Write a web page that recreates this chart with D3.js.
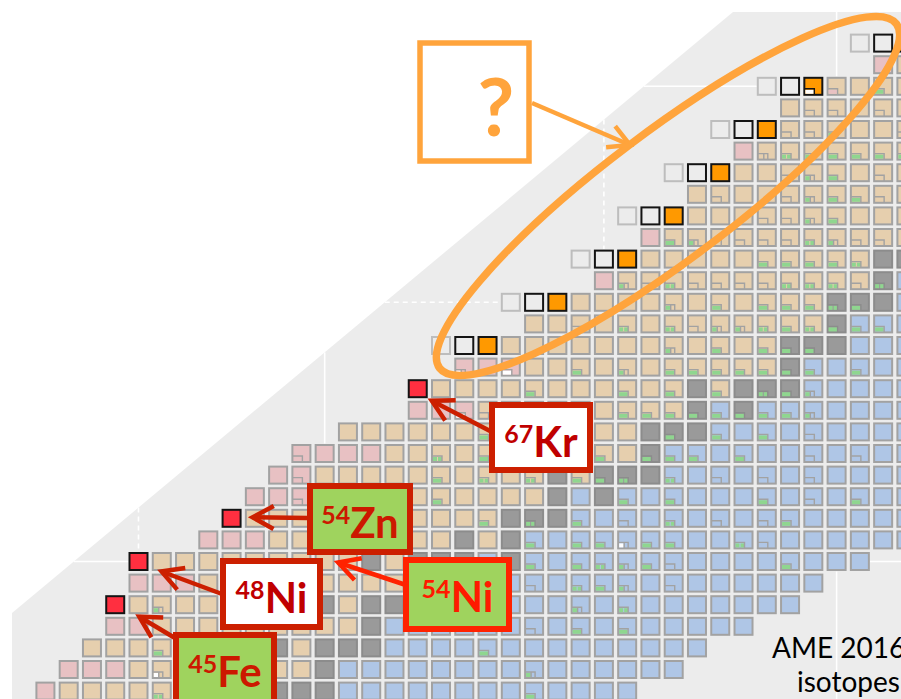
<!DOCTYPE html>
<html>
<head>
<meta charset="utf-8">
<script src="https://cdn.jsdelivr.net/npm/d3@7"></script>
<style>
  html, body { margin: 0; padding: 0; background: #ffffff; }
  svg { display: block; }
</style>
</head>
<body>
<script>
// ---- Chart of nuclides, proton-rich side (Z = 22 … 52) ----
// One entry per row: proton number, first neutron number, run-length cell kinds, isomer marks.
// kinds: w = predicted (unobserved), k = newly identified, o = newly measured,
//        r = two-proton emitter, p = proton-rich (extrapolated mass), t = measured,
//        s = stable, b = beta-minus side
// marks: . none, L isomer box, g green isomer, G two green isomers, h green + box,
//        D two boxes, w white isomer, W white + box, p pink isomer
const protonNumbers = [52,51,50,49,48,47,46,45,44,43,42,41,40,39,38,37,36,35,34,33,32,31,30,29,28,27,26,25,24,23,22];
const firstNeutron  = [51,52,47,48,45,46,43,44,41,42,39,40,36,37,33,34,32,32,29,27,26,25,24,23,20,20,19,19,18,17,16];
const cellKinds = [
  "w k o",
  "p t",
  "w k o t4",
  "t6",
  "w k o t6",
  "p t7",
  "w k o t8",
  "t10",
  "w k o t10",
  "p t11",
  "w k o t10 s2",
  "p t11 s b",
  "w k o t11 s3 b",
  "t13 s b3",
  "w k o t12 s3 b3",
  "p3 t11 s b5",
  "r t11 s t s3 b5",
  "p3 t9 s b s b7",
  "t13 s3 b9",
  "p4 t11 s b11",
  "p2 t10 s t s3 b11",
  "p3 t10 s b s b13",
  "r t11 s3 b15",
  "p3 t8 s t s b17",
  "r t9 s t s3 b s b15",
  "p3 t9 s b17",
  "r t8 s t s3 b16",
  "p2 t9 s b16",
  "t8 s t s3 b14",
  "p3 t8 s b15",
  "p t7 s5 b13"
];
const cellMarks = [
  "...",
  "..",
  "..wp.g.",
  ".LL.L.",
  "...LLg..L",
  ".DGGgggg",
  ".....Lhg.L.",
  ".L..LhggL.",
  "......LLhg...",
  ".ghLLLLGhLL.",
  "........ggggG..",
  ".hLGLLLLGGGLG.",
  ".......h.g.gggGg..",
  "..L.G.GLhhGgGggg.",
  "..........h.g.ggg....",
  "W.w..g.h.ggggggg.g..",
  ".....g...g.g.g.Ggh....",
  "..wL.....ggggggggh....",
  "......g.......g.g.g.L....",
  "L.....G.g....g.ggg.g..L.L..",
  ".L.....g.G.G.ggG.G.L.L.L....",
  "..L.....g.......g.g...g.L.g..",
  "...........g.G.g.L.G.L.Lg.....",
  "..............g.ggWgg..GL......",
  ".................g.gGhgL....g...",
  ".................L.Ggh.L......",
  "..h.................h.G.......",
  "..................L.g.g.....",
  "...g.............g.........",
  "....W...............h......",
  ".....G...............g...."
];
// Magic numbers marked by guide lines in the background
const magicNeutrons = [20, 28, 40, 50];
const magicProtons  = [28, 40, 50];
const dashedMagic   = ["N20", "N40", "Z40"];

// Labelled nuclides
const tagMass   = ["67", "54", "48", "54", "45"];
const tagSymbol = ["Kr", "Zn", "Ni", "Ni", "Fe"];
const tagCellN  = [32, 24, 20, 26, 19];
const tagCellZ  = [36, 30, 28, 28, 26];

const W = 901, H = 699;
const svg = d3.select("body").append("svg").attr("width", W).attr("height", H);

// Position scales: neutron number -> x (cell centre), proton number -> y (cell centre)
const x = d3.scaleLinear().domain([20, 50]).range([138.5, 836.6]);
const y = d3.scaleLinear().domain([28, 50]).range([561.5, 86.3]);

// Background band
const band = [[733, 12], [W, 12], [W, H], [12, H], [12, 613]];
svg.append("polygon").attr("points", band.map(p => p.join(",")).join(" ")).attr("fill", "#ececec");
const edgeYAt = px => 12 + (733 - px) * (601 / 721);
const edgeXAt = py => 733 - (py - 12) * (721 / 601);

// Expand a run-length row ("p3 t9 s") into single kind letters
const expandRow = spec => spec.split(" ").flatMap(tok => Array(tok.length > 1 ? +tok.slice(1) : 1).fill(tok[0]));

// Flatten rows into cells
const cells = [];
protonNumbers.forEach((Z, i) => {
  const kinds = expandRow(cellKinds[i]), marks = cellMarks[i];
  kinds.forEach((kind, j) => {
    cells.push({ Z, N: firstNeutron[i] + j, kind, mark: marks[j] || "." });
  });
});

// Magic-number guide lines, running through the empty part of the band
const guides = svg.append("g").attr("stroke", "#ffffff").attr("stroke-width", 1.6).attr("fill", "none");
magicNeutrons.forEach(N => {
  const col = cells.filter(c => c.N === N);
  const zMax = d3.max(col, c => c.Z), zMin = d3.min(col, c => c.Z);
  const dash = dashedMagic.includes("N" + N) ? "5,4" : null;
  const yTop = Math.max(12, edgeYAt(x(N)));
  const yFirst = y(zMax) - 10;
  if (yFirst > yTop) guides.append("line").attr("x1", x(N)).attr("x2", x(N)).attr("y1", yTop).attr("y2", yFirst).attr("stroke-dasharray", dash);
  const yLast = y(zMin) + 10;
  if (yLast < H && zMin > protonNumbers[protonNumbers.length - 1])
    guides.append("line").attr("x1", x(N)).attr("x2", x(N)).attr("y1", yLast).attr("y2", H).attr("stroke-dasharray", dash);
});
magicProtons.forEach(Z => {
  const row = cells.filter(c => c.Z === Z);
  const nMin = d3.min(row, c => c.N), nMax = d3.max(row, c => c.N);
  const dash = dashedMagic.includes("Z" + Z) ? "5,4" : null;
  const xLeft = Math.max(12, edgeXAt(y(Z)));
  if (x(nMin) - 10 > xLeft) guides.append("line").attr("x1", xLeft).attr("x2", x(nMin) - 10).attr("y1", y(Z)).attr("y2", y(Z)).attr("stroke-dasharray", dash);
  if (x(nMax) + 10 < W) guides.append("line").attr("x1", x(nMax) + 10).attr("x2", W).attr("y1", y(Z)).attr("y2", y(Z)).attr("stroke-dasharray", dash);
});

// Cells
const fillOf   = { w: "#ececec", k: "#ececec", o: "#ff9900", r: "#ff2f40", p: "#e8c1c3", t: "#e6cfae", s: "#9a9a9a", b: "#afc6e6" };
const strokeOf = { w: "#bdbdbd", k: "#141414", o: "#141414", r: "#141414", p: "#a2a2a2", t: "#a2a2a2", s: "#8c8c8c", b: "#a2a2a2" };
const cw = 18, ch = 17;

const cellG = svg.append("g");
cellG.selectAll("rect.cell").data(cells).join("rect")
  .attr("class", "cell")
  .attr("x", d => x(d.N) - cw / 2).attr("y", d => y(d.Z) - ch / 2)
  .attr("width", cw).attr("height", ch)
  .attr("fill", d => fillOf[d.kind])
  .attr("stroke", d => strokeOf[d.kind])
  .attr("stroke-width", 2);

// Isomer marks in the lower-left corner of a cell
const markFill = { g: "#8fd68f", G: "#8fd68f", h: "#8fd68f", w: "#ffffff", W: "#ffffff", p: "#e8c1c3" };
const markG = svg.append("g");
cells.filter(d => d.mark !== ".").forEach(d => {
  const left = x(d.N) - cw / 2, bottom = y(d.Z) + ch / 2;
  const g = markG.append("g");
  const bw = 10, bh = 6;
  const col = strokeOf[d.kind];
  if (d.mark === "G") {
    g.append("rect").attr("x", left + 1).attr("y", bottom - bh + 1).attr("width", 4).attr("height", bh - 2).attr("fill", "#8fd68f");
    g.append("rect").attr("x", left + 6).attr("y", bottom - bh + 1).attr("width", 4).attr("height", bh - 2).attr("fill", "#8fd68f");
  } else if (d.mark === "h" || d.mark === "W") {
    g.append("rect").attr("x", left + 1).attr("y", bottom - bh + 1).attr("width", 4.5).attr("height", bh - 2).attr("fill", markFill[d.mark]);
    g.append("path").attr("d", `M${left + 6},${bottom - bh}V${bottom}`).attr("stroke", col).attr("stroke-width", 1.4);
  } else if (d.mark === "D") {
    g.append("path").attr("d", `M${left + 6},${bottom - bh}V${bottom}`).attr("stroke", col).attr("stroke-width", 1.4);
  } else if (markFill[d.mark]) {
    g.append("rect").attr("x", left + 1).attr("y", bottom - bh + 1).attr("width", bw - 1.5).attr("height", bh - 2).attr("fill", markFill[d.mark]);
  }
  g.append("path")
    .attr("d", `M${left},${bottom - bh}H${left + bw}V${bottom}`)
    .attr("fill", "none").attr("stroke", col).attr("stroke-width", 1.4);
});

// Open chevron arrow helper
function arrow(g, x1, y1, x2, y2, color, width, arm) {
  const a = Math.atan2(y2 - y1, x2 - x1), spread = 0.5;
  g.append("line").attr("x1", x1).attr("y1", y1).attr("x2", x2).attr("y2", y2)
    .attr("stroke", color).attr("stroke-width", width);
  g.append("path")
    .attr("d", `M${x2 - arm * Math.cos(a - spread)},${y2 - arm * Math.sin(a - spread)}L${x2},${y2}L${x2 - arm * Math.cos(a + spread)},${y2 - arm * Math.sin(a + spread)}`)
    .attr("fill", "none").attr("stroke", color).attr("stroke-width", width).attr("stroke-linejoin", "miter");
}

// Highlighted region: ellipse along the proton drip line, with a question box
const hl = svg.append("g");
hl.append("ellipse").attr("cx", 668).attr("cy", 196).attr("rx", 286).attr("ry", 64)
  .attr("transform", "rotate(-37 668 196)")
  .attr("fill", "none").attr("stroke", "#ffa43c").attr("stroke-width", 7.5);
hl.append("rect").attr("x", 420).attr("y", 43).attr("width", 109).attr("height", 118)
  .attr("fill", "#ffffff").attr("stroke", "#ffa43c").attr("stroke-width", 5.5);
hl.append("text").attr("x", 496).attr("y", 136).attr("text-anchor", "middle")
  .attr("font-family", "Lato, 'Open Sans', sans-serif").attr("font-weight", 700).attr("font-size", 80)
  .attr("fill", "#ffa43c").text("?");
arrow(hl, 532, 103, 630, 145, "#ffa43c", 4.5, 24);

// Labels with arrows to the marked nuclides
const tagBox   = [[492, 405, 98, 65], [310, 486, 100, 66], [223, 561, 97, 66], [406, 560, 103, 69], [176, 635, 98, 72]];
const tagFill  = ["#ffffff", "#9fd35e", "#ffffff", "#9fd35e", "#9fd35e"];
const tagLine  = ["#cc1f00", "#cc1f00", "#cc1f00", "#ff2200", "#cc1f00"];
const tagText  = ["#c00000", "#cc1800", "#c00000", "#ff1a00", "#cc1800"];
const tagFrom  = [[492, 432], [308, 518], [222, 594], [406, 585], [180, 641]];
const tagTipDx = [14, 21, 23, 60, 24];
const tagTipDy = [12, -1, 10, 1, 12];

const tags = svg.append("g");
tagMass.forEach((m, i) => {
  const tipX = x(tagCellN[i]) + tagTipDx[i], tipY = y(tagCellZ[i]) + tagTipDy[i];
  arrow(tags, tagFrom[i][0], tagFrom[i][1], tipX, tipY, tagLine[i], 4.5, 24);
  const [bx, by, bw, bh] = tagBox[i];
  tags.append("rect").attr("x", bx).attr("y", by).attr("width", bw).attr("height", bh)
    .attr("fill", tagFill[i]).attr("stroke", tagLine[i]).attr("stroke-width", 6);
  const t = tags.append("text").attr("x", bx + bw / 2).attr("y", by + 52).attr("text-anchor", "middle")
    .attr("font-family", "Lato, 'Open Sans', sans-serif").attr("font-weight", 700).attr("fill", tagText[i]);
  t.append("tspan").attr("font-size", 25).attr("dy", -14).text(m);
  t.append("tspan").attr("font-size", 42).attr("dy", 14).text(tagSymbol[i]);
});

// Caption
const cap = svg.append("g").attr("font-family", "Lato, 'Open Sans', sans-serif").attr("font-size", 28).attr("fill", "#000");
cap.append("text").attr("x", 772).attr("y", 658).text("AME 2016");
cap.append("text").attr("x", 797).attr("y", 692).text("isotopes");
</script>
</body>
</html>
